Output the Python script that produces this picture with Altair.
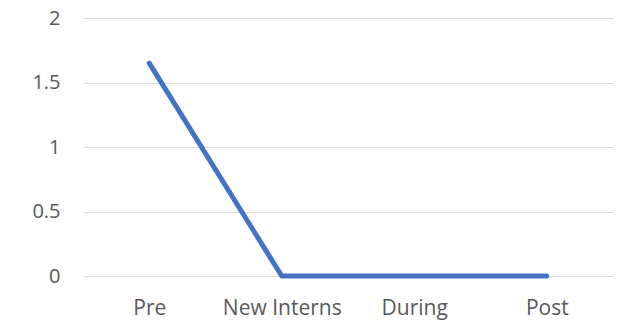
import altair as alt
import pandas as pd

categories = ["Pre", "New Interns", "During", "Post"]
values = [1.65, 0, 0, 0]
y_ticks = [0, 0.5, 1, 1.5, 2]

df = pd.DataFrame({"phase": categories, "value": values})

chart = alt.Chart(df).mark_line(
    color="#4472C4", strokeWidth=5, strokeCap="round", strokeJoin="round"
).encode(
    x=alt.X("phase:N", sort=categories, title=None,
            axis=alt.Axis(labelAngle=0, ticks=False, domain=False, grid=False,
                          labelPadding=21, labelFont="Open Sans", labelFontSize=21,
                          labelColor="#595959")),
    y=alt.Y("value:Q", title=None, scale=alt.Scale(domain=[0, 2], nice=False),
            axis=alt.Axis(values=y_ticks, ticks=False, domain=False, grid=True,
                          gridColor="#d9d9d9", gridWidth=1, labelPadding=23,
                          labelFont="Open Sans", labelFontSize=20,
                          labelColor="#595959",
                          labelExpr="datum.value == 0 ? '0' : format(datum.value, '~g')")),
).properties(
    width=530, height=258,
    autosize=alt.AutoSizeParams(type="none"),
    padding={"left": 83, "top": 18, "right": 6, "bottom": 48},
    background="white",
).configure_view(stroke=None)

chart.save("out.html", embed_options={"renderer": "svg", "actions": False})
